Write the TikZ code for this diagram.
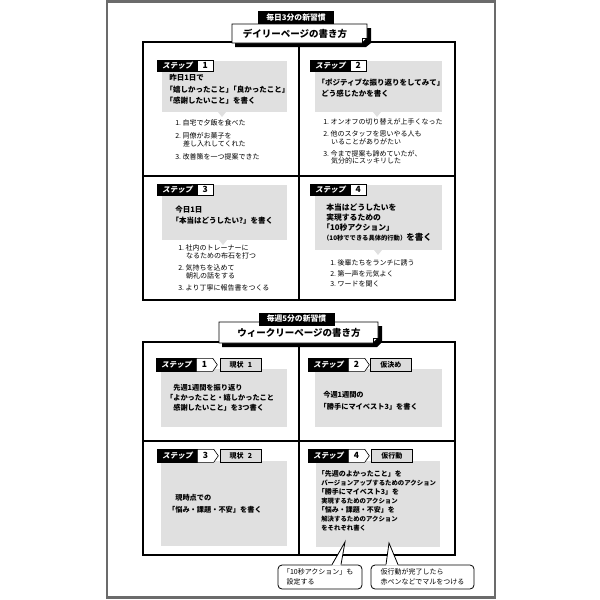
\documentclass[tikz,border=0pt]{standalone}
\usepackage{fontspec}
\setmainfont{Noto Sans CJK JP}
\newfontfamily\stepfont{Noto Sans CJK JP}[FakeSlant=0.2]
\usetikzlibrary{shapes.symbols}
\definecolor{boxgray}{HTML}{E0E0E0}
\definecolor{taggray}{HTML}{DCDCDC}
\definecolor{pagegray}{HTML}{6B6B6B}
\newcommand\kb{\hspace*{-.5em}}
\newcommand\sm{\fontsize{6.4}{9}\selectfont}

\begin{document}
\begin{tikzpicture}[x=1pt,y=-1pt,line width=.6pt,
    stepbox/.style={fill=black,draw=black,text=white,inner sep=0,anchor=north west,
      minimum width=40,font=\stepfont\bfseries\fontsize{7.5}{8}\selectfont},
    numbox/.style={fill=white,draw=black,inner sep=0,anchor=north west,
      minimum width=16,font=\bfseries\fontsize{8.5}{9}\selectfont},
    numarrow/.style={numbox,shape=signal,signal to=east,signal pointer angle=110,minimum width=21},
    tagbox/.style={fill=taggray,draw=black,inner sep=0,anchor=north west,
      minimum width=41,minimum height=13,font=\bfseries\fontsize{7}{8}\selectfont},
    graybox/.style={fill=boxgray,inner sep=0,anchor=north west},
    headtext/.style={inner sep=0,anchor=north west,align=left,font=\bfseries\fontsize{7.5}{10.5}\selectfont},
    listtext/.style={inner sep=0,anchor=north west,align=left,font=\fontsize{7}{7.5}\selectfont},
    weektext/.style={inner sep=0,anchor=west,align=left,font=\bfseries\fontsize{7.2}{10}\selectfont},
    callout/.style={draw=black,fill=white,rounded corners=4,line width=.8pt,inner sep=0,
      align=left,font=\fontsize{7}{10}\selectfont},
    seclabel/.style={fill=black,text=white,inner sep=0,minimum width=76,minimum height=13,
      font=\bfseries\fontsize{7.8}{8}\selectfont},
    sectitle/.style={inner sep=0,font=\bfseries\fontsize{9.5}{10}\selectfont}]

  \useasboundingbox (0,0) rectangle (600,600);
  \draw[pagegray,line width=2.5pt] (107,1.5) rectangle (495,597.5);

  % daily page
  \draw[line width=1.1pt] (143,42) rectangle (455,300) (299,42) -- (299,300) (143,176) -- (455,176);
  \fill (235,28) -- (371,28) -- (371,43) -- (366,47) -- (235,47) -- cycle;
  \draw[fill=white] (232,24) -- (367,24) -- (367,38) -- (362,43) -- (232,43) -- cycle;
  \draw (362,43) -- (362,38) -- (367,38);
  \node[seclabel] (dlabel) at (296,17.5) {毎日3分の新習慣};
  \node[sectitle] (dtitle) at (295,33.5) {デイリーページの書き方};

  \node[graybox,minimum width=125,minimum height=51] (d1) at (162,61) {};
  \node[graybox,minimum width=127,minimum height=51] (d2) at (315,61) {};
  \node[graybox,minimum width=125,minimum height=55] (d3) at (162,185) {};
  \node[graybox,minimum width=127,minimum height=65] (d4) at (315,185) {};
  \fill[boxgray] (218,112) -- (222,117) -- (226,112) -- cycle;
  \fill[boxgray] (373,112) -- (377,117) -- (381,112) -- cycle;
  \fill[boxgray] (219,240) -- (223,245) -- (227,240) -- cycle;
  \fill[boxgray] (374,250) -- (378,255) -- (382,250) -- cycle;

  \node[stepbox,minimum height=11] (ds1) at (157,60) {ステップ};
  \node[numbox,minimum height=11] (dn1) at (197,60) {1};
  \node[stepbox,minimum height=11] (ds2) at (310,60) {ステップ};
  \node[numbox,minimum height=11] (dn2) at (350,60) {2};
  \node[stepbox,minimum height=11] (ds3) at (157,184) {ステップ};
  \node[numbox,minimum height=11] (dn3) at (197,184) {3};
  \node[stepbox,minimum height=11] (ds4) at (310,184) {ステップ};
  \node[numbox,minimum height=11] (dn4) at (350,184) {4};

  \node[headtext,font=\bfseries\fontsize{7.5}{11.3}\selectfont] (d1t) at (169,74) {昨日1日で\\\kb「嬉しかったこと」\hspace{-.5em}「良かったこと」\\\kb「感謝したいこと」を書く};
  \node[listtext] (d1l) at (175,119.5) {1.\ 自宅で夕飯を食べた\\[5.5pt]2.\ 同僚がお菓子を\\\hspace*{1.1em}差し入れしてくれた\\[5.5pt]3.\ 改善策を一つ提案できた};
  \node[headtext] (d2t) at (321,79) {\kb「ポジティブな振り返りをしてみて」\\どう感じたかを書く};
  \node[listtext] (d2l) at (323,118.5) {1.\ オンオフの切り替えが上手くなった\\[4.5pt]2.\ 他のスタッフを思いやる人も\\\hspace*{1.1em}いることがありがたい\\[4.5pt]3.\ 今まで提案も諦めていたが、\\\hspace*{1.1em}気分的にスッキリした};
  \node[headtext] (d3t) at (175,206) {今日1日\\\kb「本当はどうしたい?」を書く};
  \node[listtext] (d3l) at (178,244.5) {1.\ 社内のトレーナーに\\\hspace*{1.1em}なるための布石を打つ\\[5pt]2.\ 気持ちを込めて\\\hspace*{1.1em}朝礼の話をする\\[5pt]3.\ より丁寧に報告書をつくる};
  \node[headtext,font=\bfseries\fontsize{7.8}{10}\selectfont] (d4t) at (326,204) {本当はどうしたいを\\実現するための\\\kb「10秒アクション」\\{\fontsize{6.3}{7}\selectfont\kb（10秒でできる具体的行動）}{\fontsize{8.5}{9}\selectfont を書く}};
  \node[listtext] (d4l) at (330,259.5) {1.\ 後輩たちをランチに誘う\\[3pt]2.\ 第一声を元気よく\\[3pt]3.\ ワードを聞く};

  % weekly page
  \draw[line width=1.1pt] (143,342) rectangle (455,555) (299,342) -- (299,555) (143,441) -- (455,441);
  \fill (222,326) -- (382,326) -- (382,342) -- (377,347) -- (222,347) -- cycle;
  \draw[fill=white] (219,322) -- (378,322) -- (378,338) -- (373,343) -- (219,343) -- cycle;
  \draw (373,343) -- (373,338) -- (378,338);
  \node[seclabel] (wlabel) at (296.5,319) {毎週5分の新習慣};
  \node[sectitle] (wtitle) at (299,333) {ウィークリーページの書き方};

  \node[graybox,minimum width=126,minimum height=58] (w1) at (161,369) {};
  \node[graybox,minimum width=127,minimum height=58] (w2) at (315,369) {};
  \node[graybox,minimum width=126,minimum height=85] (w3) at (161,461) {};
  \node[graybox,minimum width=124,minimum height=86] (w4) at (316,461) {};

  \node[stepbox,minimum height=13] (ws1) at (156,358) {ステップ};
  \node[numarrow,minimum height=13] (wn1) at (196,358) {1};
  \node[tagbox] (wg1) at (220,358) {現状\hspace{.6em}1};
  \node[stepbox,minimum height=13] (ws2) at (308,358) {ステップ};
  \node[numarrow,minimum height=13] (wn2) at (348,358) {2};
  \node[tagbox] (wg2) at (370,358) {仮決め};
  \node[stepbox,minimum height=13] (ws3) at (157,449) {ステップ};
  \node[numarrow,minimum height=13] (wn3) at (197,449) {3};
  \node[tagbox] (wg3) at (220,449) {現状\hspace{.6em}2};
  \node[stepbox,minimum height=13] (ws4) at (308,449) {ステップ};
  \node[numarrow,minimum height=13] (wn4) at (348,449) {4};
  \node[tagbox] (wg4) at (371,449) {仮行動};

  \node[weektext] (w1t) at (173,398) {先週1週間を振り返り\\\hspace*{-1em}「よかったこと・嬉しかったこと\\感謝したいこと」を3つ書く};
  \node[weektext,font=\bfseries\fontsize{7.2}{12}\selectfont] (w2t) at (323,401) {今週1週間の\\\kb「勝手にマイベスト3」を書く};
  \node[weektext,font=\bfseries\fontsize{7.2}{12}\selectfont] (w3t) at (175,504) {現時点での\\\hspace*{-1em}「悩み・課題・不安」を書く};
  \node[weektext,font=\bfseries\fontsize{7}{9}\selectfont] (w4t) at (321,501) {\kb「先週のよかったこと」を\\{\sm バージョンアップするためのアクション}\\\kb「勝手にマイベスト3」を\\{\sm 実現するためのアクション}\\\kb「悩み・課題・不安」を\\{\sm 解決するためのアクション}\\{\sm をそれぞれ書く}};

  \node[callout,minimum width=84,minimum height=24] (c1) at (320,577) {\kb「10秒アクション」も\\設定する};
  \node[callout,minimum width=103,minimum height=24] (c2) at (422.5,577) {仮行動が完了したら\\赤ペンなどでマルをつける};
  \coordinate (tip1) at (345,542);
  \coordinate (tip2) at (389,543);
  \fill[white] ([xshift=12,yshift=-1]c1.north) -- (tip1) -- ([xshift=21,yshift=-1]c1.north) -- cycle;
  \draw[line width=.8pt] ([xshift=12]c1.north) -- (tip1) -- ([xshift=21]c1.north);
  \fill[white] ([xshift=-36.5,yshift=-1]c2.north) -- (tip2) -- ([xshift=-24.5,yshift=-1]c2.north) -- cycle;
  \draw[line width=.8pt] ([xshift=-36.5]c2.north) -- (tip2) -- ([xshift=-24.5]c2.north);
\end{tikzpicture}
\end{document}
